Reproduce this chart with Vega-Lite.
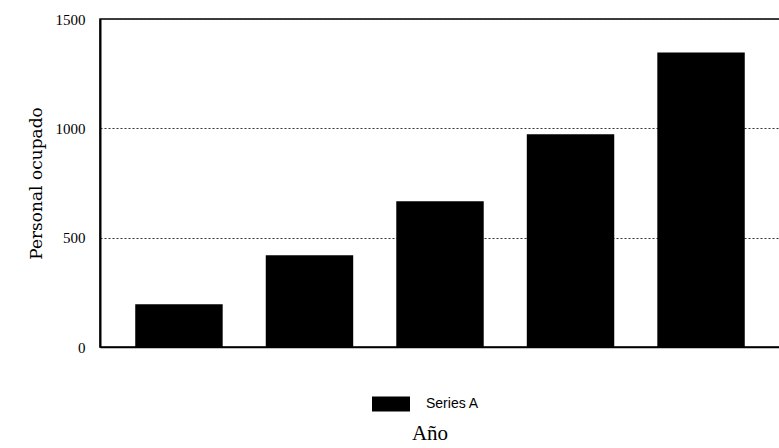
{
  "$schema": "https://vega.github.io/schema/vega-lite/v6.json",
  "autosize": {"type": "none"},
  "padding": {"left": 100, "top": 19, "right": 0, "bottom": 101},
  "width": 680,
  "height": 328,
  "background": "white",
  "title": {
    "text": "Año",
    "orient": "bottom",
    "anchor": "middle",
    "font": "Liberation Serif",
    "fontSize": 21,
    "fontWeight": "normal",
    "color": "black",
    "offset": 11,
    "dx": -10
  },
  "data": {
    "values": [
      {"anio": "1", "valor": 196, "serie": "Series A"},
      {"anio": "2", "valor": 420, "serie": "Series A"},
      {"anio": "3", "valor": 667, "serie": "Series A"},
      {"anio": "4", "valor": 973, "serie": "Series A"},
      {"anio": "5", "valor": 1347, "serie": "Series A"}
    ]
  },
  "mark": {"type": "bar", "color": "black"},
  "encoding": {
    "x": {
      "field": "anio",
      "type": "nominal",
      "scale": {"paddingInner": 0.33, "paddingOuter": 0.27},
      "axis": {
        "title": null,
        "labels": false,
        "ticks": false,
        "domainColor": "black",
        "domainWidth": 1.5
      }
    },
    "y": {
      "field": "valor",
      "type": "quantitative",
      "scale": {"domain": [0, 1500], "nice": false},
      "axis": {
        "title": "Personal ocupado",
        "titleFont": "DejaVu Serif",
        "titleFontSize": 17,
        "titleFontWeight": "normal",
        "titleColor": "black",
        "titlePadding": 10,
        "values": [0, 500, 1000, 1500],
        "format": "d",
        "labelFont": "Liberation Serif",
        "labelFontSize": 15,
        "labelColor": "black",
        "labelPadding": 15,
        "ticks": false,
        "domainColor": "black",
        "domainWidth": 2,
        "grid": true,
        "gridColor": "#333",
        "gridDash": [2, 2],
        "gridWidth": 1
      }
    },
    "color": {
      "field": "serie",
      "type": "nominal",
      "scale": {"range": ["black"]},
      "legend": {
        "title": null,
        "orient": "none",
        "legendX": 272,
        "legendY": 366,
        "direction": "horizontal",
        "symbolType": "M-1,-0.4H1V0.4H-1Z",
        "symbolSize": 1444,
        "symbolStrokeWidth": 0,
        "labelFont": "Liberation Sans",
        "labelFontSize": 14,
        "labelColor": "black",
        "labelOffset": 16
      }
    }
  },
  "config": {
    "view": {"stroke": "black", "strokeWidth": 1.5}
  }
}
